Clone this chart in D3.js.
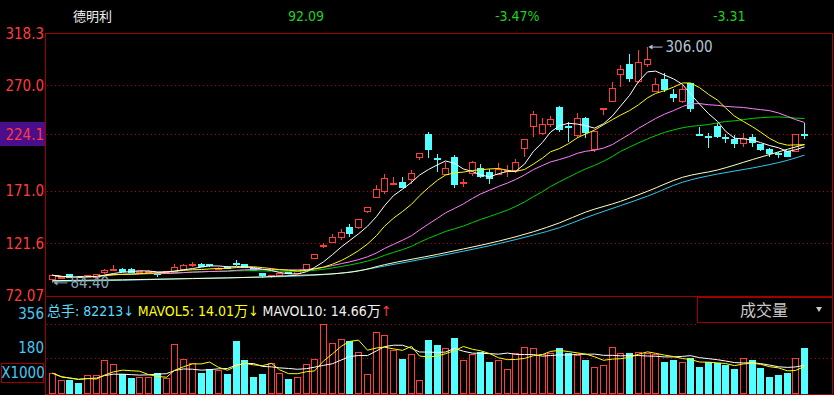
<!DOCTYPE html>
<html>
<head>
<meta charset="utf-8">
<script src="https://cdn.jsdelivr.net/npm/d3@7"></script>
<style>
    body { margin: 0; background: #000; }
    svg { display: block; }
    text { font-family: "Liberation Sans Narrow", "DejaVu Sans Condensed", "Noto Sans CJK SC", sans-serif; }
</style>
</head>
<body>
<div id="chart"></div>
<script>
// daily candles, oldest first
const opens  = [87.8, 89.2, 92.1, 90.2, 90.3, 89.6, 94.0, 96.6, 97.4, 96.8, 94.6, 94.3, 93.4, 93.8, 94.3, 97.4, 101.4, 101.8, 101.5, 98.0,
    99.0, 103.0, 101.5, 98.0, 93.4, 90.0, 91.0, 94.0, 93.5, 97.4, 107.1, 118.9, 122.1, 126.9, 136.9, 136.3, 151.3, 164.8, 170.1, 177.0,
    178.6, 181.7, 202.0, 223.4, 201.5, 186.7, 202.7, 178.5, 187.4, 192.1, 188.0, 186.7, 189.5, 190.4, 210.9, 231.2, 225.0, 232.8, 249.0, 231.2,
    222.5, 239.1, 209.3, 247.5, 254.7, 280.4, 289.2, 273.5, 289.8, 264.1, 275.1, 261.6, 254.7, 272.0, 224.2, 221.5, 231.2, 220.6, 219.3, 215.6,
    221.2, 214.0, 209.3, 205.7, 207.7, 207.7, 224.2];
const highs  = [92.5, 90.0, 93.0, 91.0, 92.1, 92.5, 97.0, 101.2, 98.0, 98.3, 96.0, 96.5, 95.0, 95.6, 102.1, 102.5, 103.7, 103.0, 102.1, 99.0,
    99.8, 105.9, 102.2, 98.8, 94.0, 92.0, 93.5, 94.5, 95.5, 102.6, 112.0, 121.6, 130.1, 135.5, 140.0, 144.0, 156.0, 176.4, 186.7, 183.8,
    183.6, 190.8, 206.8, 225.9, 205.2, 198.3, 204.6, 181.7, 199.2, 195.8, 191.1, 196.8, 195.1, 200.5, 219.5, 246.0, 239.4, 241.0, 251.0, 235.9,
    243.8, 240.0, 227.5, 248.5, 272.9, 289.2, 299.5, 303.3, 306.0, 276.7, 281.9, 266.3, 270.4, 272.5, 231.2, 225.0, 234.4, 224.3, 223.4, 225.5,
    224.3, 215.0, 211.5, 207.7, 208.5, 224.5, 234.4];
const lows   = [84.4, 88.5, 89.0, 88.8, 90.0, 89.3, 93.2, 96.3, 94.6, 94.2, 94.0, 94.0, 90.3, 93.2, 93.8, 97.0, 99.1, 99.3, 99.6, 97.5,
    97.0, 100.2, 98.5, 96.0, 89.0, 89.2, 90.5, 92.5, 93.0, 97.0, 106.5, 117.0, 121.5, 125.0, 127.9, 135.0, 149.8, 163.9, 167.9, 176.5,
    173.5, 177.7, 199.9, 202.0, 188.9, 186.0, 173.8, 174.8, 184.8, 182.7, 177.0, 185.5, 184.2, 188.0, 203.0, 221.2, 223.4, 231.0, 226.0, 217.1,
    221.0, 220.3, 207.7, 242.0, 254.0, 268.8, 273.5, 272.0, 287.6, 263.5, 264.1, 254.7, 253.0, 245.3, 223.8, 210.9, 221.0, 215.6, 210.9, 211.8,
    211.8, 208.5, 203.0, 201.5, 202.5, 207.0, 219.6];
const closes = [91.5, 89.4, 89.6, 89.3, 91.0, 92.1, 96.5, 97.2, 95.0, 94.6, 95.5, 95.5, 93.0, 95.0, 98.4, 101.2, 101.9, 99.6, 100.5, 98.3,
    97.5, 102.3, 99.0, 96.5, 90.9, 91.5, 93.0, 93.0, 95.0, 102.1, 111.3, 119.5, 126.9, 131.9, 130.6, 143.5, 155.4, 172.3, 182.7, 178.0,
    174.0, 187.4, 206.2, 209.3, 199.9, 192.1, 176.4, 179.2, 197.7, 184.2, 182.7, 191.1, 190.0, 197.7, 218.7, 243.0, 232.8, 238.1, 228.1, 230.0,
    239.1, 225.5, 226.5, 248.5, 267.3, 284.5, 276.1, 291.7, 293.9, 271.0, 265.7, 258.4, 265.7, 248.5, 223.8, 221.0, 221.8, 219.7, 215.6, 220.3,
    216.2, 209.3, 206.2, 205.0, 203.0, 224.0, 222.5];
// volume in thousands of shares
const volumes = [104, 67, 67, 52, 92, 92, 169, 149, 97, 76, 81, 81, 102, 76, 252, 174, 154, 102, 123, 118,
    98, 264, 171, 83, 98, 154, 102, 72, 81, 149, 174, 356, 257, 278, 266, 211, 97, 314, 299, 221,
    174, 200, 66, 274, 248, 231, 280, 171, 202, 211, 160, 171, 123, 207, 237, 231, 200, 203, 233, 207,
    197, 171, 133, 143, 237, 207, 207, 211, 205, 200, 160, 171, 160, 180, 135, 157, 152, 145, 124, 180,
    171, 129, 83, 93, 104, 180, 233];

// the two long averages at these candles
const ma60Idx  = [0, 8, 16, 24, 28, 32, 35, 38, 44, 47, 51, 55, 58, 61, 65, 68, 72, 76, 80, 84, 86];
const ma60Vals = [86.5, 87.3, 88.4, 90.0, 91.5, 92.9, 95.6, 101.5, 111.2, 116.3, 123.6, 132.5, 140.8, 150.9, 161.0, 170.5, 183.6, 190.5, 200.3, 210.0, 214.5];
const ma120Idx  = [0, 8, 16, 24, 28, 34, 38, 44, 47, 51, 55, 58, 61, 65, 68, 72, 76, 80, 84, 86];
const ma120Vals = [85.8, 86.8, 88.6, 89.8, 90.8, 94.5, 100.2, 109.4, 114.2, 121.2, 129.4, 136.3, 145.6, 157.0, 165.9, 179.0, 186.7, 192.4, 199.6, 204.5];

const priceTicks = [318.3, 270.0, 224.1, 171.0, 121.6, 72.07];
const priceTickLabels = ["318.3", "270.0", "224.1", "171.0", "121.6", "72.07"];
const volTicks = [356, 180];

class KLineChart {
    constructor(parentElement) {
        this.parentElement = parentElement;
        this.initVis();
    }

    initVis() {
        let vis = this;

        vis.width = 834;
        vis.height = 395;

        vis.svg = d3.select("#" + vis.parentElement).append("svg")
            .attr("width", vis.width)
            .attr("height", vis.height)
            .style("background", "#000");

        // scales
        vis.x = d3.scaleBand()
            .domain(d3.range(closes.length))
            .range([47.6, 808.4])
            .paddingInner(0.3)
            .paddingOuter(0.15);
        vis.yPrice = d3.scaleLinear().domain([72.07, 318.3]).range([296, 34]);
        vis.yVol = d3.scaleLinear().domain([0, 356]).range([393.5, 324]);

        vis.cx = i => Math.round(vis.x(i) + vis.x.bandwidth() / 2) + 0.5;

        vis.wrangleData();
    }

    wrangleData() {
        let vis = this;

        function movingAvg(arr, n) {
            return arr.map((d, i) => d3.mean(arr.slice(Math.max(0, i - n + 1), i + 1)));
        }

        vis.candles = closes.map((c, i) => ({i: i, o: opens[i], h: highs[i], l: lows[i], c: c, v: volumes[i]}));
        vis.ma5 = movingAvg(closes, 5);
        vis.ma10 = movingAvg(closes, 10);
        vis.ma20 = movingAvg(closes, 20);
        vis.ma30 = movingAvg(closes, 30);
        vis.ma60 = ma60Idx.map((d, k) => [d, ma60Vals[k]]);
        vis.ma120 = ma120Idx.map((d, k) => [d, ma120Vals[k]]);
        vis.vma5 = movingAvg(volumes, 5);
        vis.vma10 = movingAvg(volumes, 10);

        vis.updateVis();
    }

    updateVis() {
        let vis = this;
        const red = "#ff3c3c", cyan = "#54ffff", frame = "#a00000", dots = "#b00000";

        // header
        const header = vis.svg.append("g").style("font-size", "14px");
        header.append("text").attr("x", 73).attr("y", 21).attr("fill", "#f0f0f0")
            .style("font-family", "'Noto Sans CJK SC', sans-serif").style("font-size", "13px").text("德明利");
        header.append("text").attr("x", 288).attr("y", 21).attr("fill", "#1ed21e").text("92.09");
        header.append("text").attr("x", 495).attr("y", 21).attr("fill", "#1ed21e").text("-3.47%");
        header.append("text").attr("x", 713).attr("y", 21).attr("fill", "#1ed21e").text("-3.31");

        // frame
        const fr = vis.svg.append("g").attr("stroke", frame).attr("fill", "none").attr("shape-rendering", "crispEdges");
        fr.append("line").attr("x1", 45.5).attr("x2", 45.5).attr("y1", 33).attr("y2", 395);
        fr.append("line").attr("x1", 45).attr("x2", 833).attr("y1", 33.5).attr("y2", 33.5);
        fr.append("line").attr("x1", 832.5).attr("x2", 832.5).attr("y1", 33).attr("y2", 395);
        fr.append("line").attr("x1", 45).attr("x2", 833).attr("y1", 296.5).attr("y2", 296.5);
        fr.append("line").attr("x1", 45).attr("x2", 833).attr("y1", 394.5).attr("y2", 394.5);

        // price grid + labels
        vis.svg.append("g").selectAll("line")
            .data(priceTicks.slice(1, -1))
            .join("line")
            .attr("x1", 47).attr("x2", 832)
            .attr("y1", d => Math.round(vis.yPrice(d)) + 0.5)
            .attr("y2", d => Math.round(vis.yPrice(d)) + 0.5)
            .attr("stroke", dots).attr("stroke-dasharray", "1,3");

        vis.svg.append("rect").attr("x", 0).attr("y", 122).attr("width", 45).attr("height", 24).attr("fill", "#4a0d8c");

        vis.svg.append("g").selectAll("text")
            .data(priceTicks)
            .join("text")
            .attr("x", 44)
            .attr("y", d => vis.yPrice(d))
            .attr("dy", "0.36em")
            .attr("text-anchor", "end")
            .attr("fill", red)
            .style("font-size", "15px")
            .text((d, k) => priceTickLabels[k]);

        // volume grid + labels
        vis.svg.append("g").selectAll("line")
            .data(volTicks)
            .join("line")
            .attr("x1", 47).attr("x2", d => d === 356 ? 697 : 832)
            .attr("y1", d => Math.round(vis.yVol(d)) + 0.5)
            .attr("y2", d => Math.round(vis.yVol(d)) + 0.5)
            .attr("stroke", dots).attr("stroke-dasharray", "1,3");

        vis.svg.append("g").selectAll("text")
            .data(volTicks)
            .join("text")
            .attr("x", 44)
            .attr("y", d => vis.yVol(d) - 5)
            .attr("text-anchor", "end")
            .attr("fill", "#46c8f5")
            .style("font-size", "15px")
            .text(d => d);

        vis.svg.append("rect").attr("x", 1.5).attr("y", 363.5).attr("width", 42).attr("height", 19)
            .attr("fill", "none").attr("stroke", frame);
        vis.svg.append("text").attr("x", 23).attr("y", 378).attr("text-anchor", "middle")
            .attr("fill", "#46c8f5").style("font-size", "15px").text("X1000");

        // candles
        const cg = vis.svg.append("g").attr("shape-rendering", "crispEdges");
        const bw = 6;
        cg.selectAll("line")
            .data(vis.candles)
            .join("line")
            .attr("x1", d => vis.cx(d.i)).attr("x2", d => vis.cx(d.i))
            .attr("y1", d => vis.yPrice(d.h)).attr("y2", d => vis.yPrice(d.l))
            .attr("stroke", d => d.c >= d.o ? red : cyan);
        cg.selectAll("rect")
            .data(vis.candles)
            .join("rect")
            .attr("x", d => vis.cx(d.i) - bw / 2)
            .attr("y", d => vis.yPrice(Math.max(d.o, d.c)))
            .attr("width", bw)
            .attr("height", d => Math.max(1, Math.abs(vis.yPrice(d.o) - vis.yPrice(d.c))))
            .attr("fill", d => d.c >= d.o ? "#000" : cyan)
            .attr("stroke", d => d.c >= d.o ? red : cyan);

        // moving averages
        const line = d3.line().x((d, i) => vis.cx(i)).y(d => vis.yPrice(d));
        const sparse = d3.line().curve(d3.curveMonotoneX).x(d => vis.cx(d[0])).y(d => vis.yPrice(d[1]));
        const mg = vis.svg.append("g").attr("fill", "none").attr("stroke-width", 1);
        mg.append("path").attr("d", sparse(vis.ma120)).attr("stroke", "#2ec8f0");
        mg.append("path").attr("d", sparse(vis.ma60)).attr("stroke", "#ffffc0");
        mg.append("path").attr("d", line(vis.ma30)).attr("stroke", "#00d000");
        mg.append("path").attr("d", line(vis.ma20)).attr("stroke", "#ff80ff");
        mg.append("path").attr("d", line(vis.ma10)).attr("stroke", "#ffff00");
        mg.append("path").attr("d", line(vis.ma5)).attr("stroke", "#ffffff");

        // high / low marks
        const hiIdx = d3.maxIndex(highs), loIdx = d3.minIndex(lows);
        const ann = vis.svg.append("g").style("font-size", "15px");
        ann.append("line").attr("x1", vis.cx(hiIdx) + 2).attr("x2", vis.cx(hiIdx) + 15)
            .attr("y1", vis.yPrice(highs[hiIdx])).attr("y2", vis.yPrice(highs[hiIdx])).attr("stroke", "#b4c4d4");
        ann.append("path").attr("d", `M${vis.cx(hiIdx) + 1},${vis.yPrice(highs[hiIdx])} l4,-2.5 l0,5 z`).attr("fill", "#b4c4d4");
        ann.append("text").attr("x", vis.cx(hiIdx) + 18).attr("y", vis.yPrice(highs[hiIdx])).attr("dy", "0.36em")
            .attr("fill", "#b4c4d4").text(d3.format(".2f")(highs[hiIdx]));
        ann.append("line").attr("x1", vis.cx(loIdx) + 2).attr("x2", vis.cx(loIdx) + 15)
            .attr("y1", vis.yPrice(lows[loIdx])).attr("y2", vis.yPrice(lows[loIdx])).attr("stroke", "#8ca4bc");
        ann.append("path").attr("d", `M${vis.cx(loIdx) + 1},${vis.yPrice(lows[loIdx])} l4,-2.5 l0,5 z`).attr("fill", "#8ca4bc");
        ann.append("text").attr("x", vis.cx(loIdx) + 18).attr("y", vis.yPrice(lows[loIdx])).attr("dy", "0.36em")
            .attr("fill", "#8ca4bc").text(d3.format(".2f")(lows[loIdx]));

        // volume bars
        vis.svg.append("g").attr("shape-rendering", "crispEdges")
            .selectAll("rect")
            .data(vis.candles)
            .join("rect")
            .attr("x", d => vis.cx(d.i) - bw / 2)
            .attr("y", d => vis.yVol(d.v))
            .attr("width", bw)
            .attr("height", d => vis.yVol(0) - vis.yVol(d.v))
            .attr("fill", d => d.c >= d.o ? "#000" : cyan)
            .attr("stroke", d => d.c >= d.o ? red : cyan);

        const vline = d3.line().x((d, i) => vis.cx(i)).y(d => vis.yVol(d));
        vis.svg.append("path").attr("d", vline(vis.vma10)).attr("fill", "none").attr("stroke", "#ffffff");
        vis.svg.append("path").attr("d", vline(vis.vma5)).attr("fill", "none").attr("stroke", "#ffff00");

        // volume legend
        const leg = vis.svg.append("text").attr("x", 47).attr("y", 316).style("font-size", "14px");
        leg.append("tspan").attr("fill", "#5adcff").text("总手: 82213↓ ");
        leg.append("tspan").attr("fill", "#ffff00").text("MAVOL5: 14.01万↓ ");
        leg.append("tspan").attr("fill", "#f0f0f0").text("MAVOL10: 14.66万");
        leg.append("tspan").attr("fill", red).text("↑");

        // indicator selector
        vis.svg.append("rect").attr("x", 697.5).attr("y", 297.5).attr("width", 135).attr("height", 25)
            .attr("fill", "#000").attr("stroke", frame);
        vis.svg.append("text").attr("x", 764).attr("y", 316).attr("text-anchor", "middle")
            .attr("fill", "#c8c8c8").style("font-family", "'Noto Sans CJK SC', sans-serif").style("font-size", "16px").text("成交量");
        vis.svg.append("path").attr("d", "M816,307 l6,0 l-3,5 z").attr("fill", "#c8c8c8");
    }
}

new KLineChart("chart");
</script>
</body>
</html>
